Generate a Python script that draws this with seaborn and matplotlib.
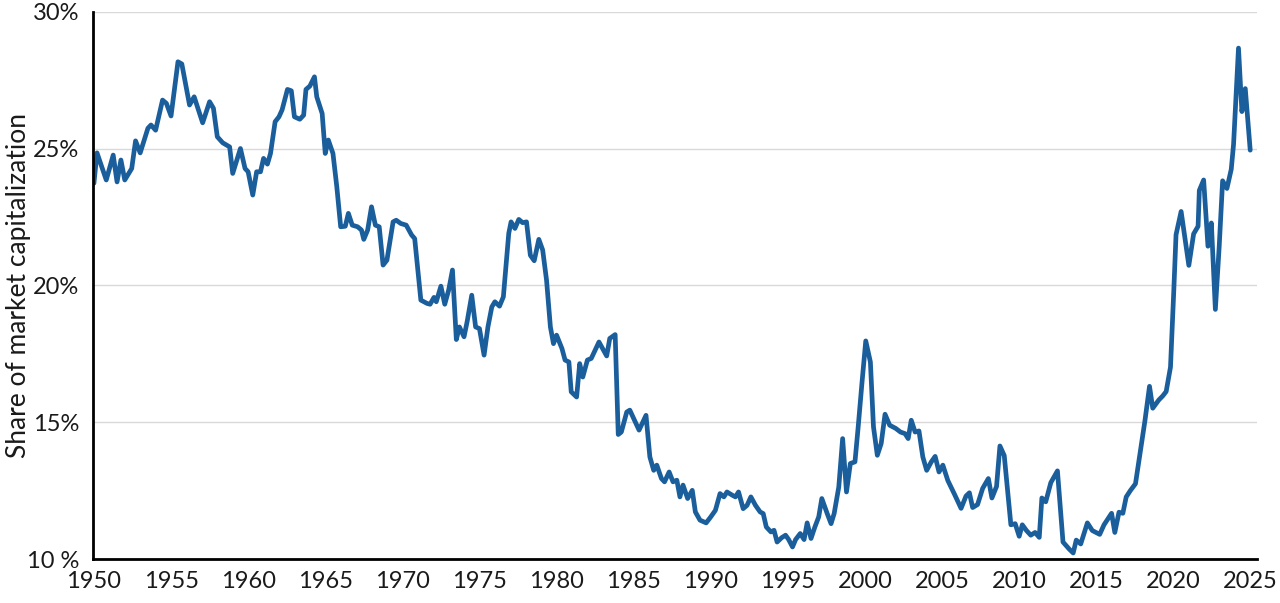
import pandas as pd
import matplotlib
matplotlib.use("Agg")
import matplotlib.pyplot as plt
import seaborn as sns

# Values (share of market capitalization, %)
years = [
    1950.0, 1950.2, 1950.8, 1951.25, 1951.5, 1951.75, 1952.0, 1952.45, 1952.7, 1953.0,
    1953.5, 1953.7, 1954.0, 1954.45, 1954.7, 1955.0, 1955.45, 1955.7, 1956.2, 1956.5,
    1957.05, 1957.5, 1957.75, 1958.0, 1958.35, 1958.8, 1959.0, 1959.5, 1959.8, 1960.0,
    1960.3, 1960.55, 1960.8, 1961.0, 1961.25, 1961.45, 1961.75, 1962.0, 1962.2, 1962.55,
    1962.8, 1963.0, 1963.35, 1963.6, 1963.75, 1964.0, 1964.3, 1964.45, 1964.8, 1965.0,
    1965.2, 1965.5, 1965.75, 1966.0, 1966.3, 1966.5, 1966.75, 1967.1, 1967.35, 1967.5,
    1967.75, 1968.0, 1968.25, 1968.5, 1968.75, 1969.0, 1969.4, 1969.6, 1969.9, 1970.25,
    1970.6, 1970.8, 1971.2, 1971.6, 1971.8, 1972.05, 1972.2, 1972.5, 1972.75, 1973.0,
    1973.25, 1973.5, 1973.7, 1974.0, 1974.2, 1974.5, 1974.75, 1975.0, 1975.3, 1975.55,
    1975.8, 1976.0, 1976.3, 1976.55, 1976.75, 1976.9, 1977.05, 1977.3, 1977.55, 1977.8,
    1978.05, 1978.3, 1978.55, 1978.85, 1979.1, 1979.35, 1979.6, 1979.8, 1980.0, 1980.35,
    1980.55, 1980.8, 1980.95, 1981.3, 1981.5, 1981.7, 1982.0, 1982.25, 1982.75, 1983.25,
    1983.45, 1983.8, 1984.0, 1984.2, 1984.55, 1984.75, 1985.35, 1985.8, 1986.05, 1986.3,
    1986.5, 1986.8, 1987.0, 1987.3, 1987.55, 1987.8, 1988.0, 1988.2, 1988.5, 1988.8,
    1989.0, 1989.3, 1989.7, 1990.0, 1990.3, 1990.6, 1990.85, 1991.05, 1991.4, 1991.6,
    1991.8, 1992.1, 1992.35, 1992.6, 1992.9, 1993.2, 1993.4, 1993.6, 1993.9, 1994.1,
    1994.3, 1994.6, 1994.85, 1995.05, 1995.3, 1995.5, 1995.8, 1996.05, 1996.25, 1996.5,
    1996.75, 1997.0, 1997.2, 1997.55, 1997.8, 1998.0, 1998.3, 1998.55, 1998.8, 1999.05,
    1999.35, 1999.55, 1999.8, 2000.05, 2000.35, 2000.55, 2000.8, 2001.05, 2001.3, 2001.6,
    2002.0, 2002.3, 2002.6, 2002.8, 2003.0, 2003.25, 2003.5, 2003.75, 2004.0, 2004.3,
    2004.55, 2004.8, 2005.05, 2005.37, 2005.8, 2006.23, 2006.55, 2006.77, 2006.98, 2007.3,
    2007.63, 2008.0, 2008.23, 2008.53, 2008.75, 2009.03, 2009.46, 2009.74, 2010.0, 2010.2,
    2010.47, 2010.75, 2011.03, 2011.3, 2011.47, 2011.72, 2012.05, 2012.48, 2012.84, 2013.23,
    2013.5, 2013.7, 2013.99, 2014.42, 2014.74, 2015.22, 2015.5, 2015.99, 2016.2, 2016.47,
    2016.72, 2016.94, 2017.22, 2017.54, 2017.87, 2018.15, 2018.45, 2018.66, 2019.05, 2019.31,
    2019.53, 2019.81, 2020.02, 2020.17, 2020.5, 2021.0, 2021.31, 2021.6, 2021.68, 2021.96,
    2022.24, 2022.46, 2022.72, 2022.97, 2023.19, 2023.47, 2023.75, 2023.9, 2024.22, 2024.44,
    2024.66, 2024.98,
]
share = [
    23.73, 24.84, 23.85, 24.76, 23.78, 24.58, 23.85, 24.27, 25.28, 24.84,
    25.74, 25.86, 25.67, 26.77, 26.65, 26.19, 28.17, 28.09, 26.59, 26.89,
    25.94, 26.71, 26.47, 25.43, 25.21, 25.06, 24.09, 25.00, 24.27, 24.15,
    23.30, 24.15, 24.15, 24.64, 24.43, 24.82, 25.98, 26.16, 26.41, 27.16,
    27.11, 26.16, 26.07, 26.22, 27.16, 27.28, 27.62, 26.89, 26.28, 24.82,
    25.31, 24.82, 23.60, 22.14, 22.16, 22.63, 22.20, 22.14, 22.02, 21.68,
    22.02, 22.87, 22.20, 22.14, 20.74, 20.92, 22.32, 22.38, 22.26, 22.20,
    21.84, 21.71, 19.46, 19.34, 19.31, 19.56, 19.40, 19.97, 19.31, 19.82,
    20.56, 18.02, 18.48, 18.12, 18.67, 19.64, 18.48, 18.42, 17.45, 18.48,
    19.21, 19.40, 19.24, 19.58, 20.92, 21.90, 22.32, 22.08, 22.41, 22.29,
    22.32, 21.10, 20.90, 21.68, 21.29, 20.19, 18.48, 17.87, 18.18, 17.69,
    17.27, 17.20, 16.11, 15.92, 17.14, 16.65, 17.27, 17.33, 17.93, 17.42,
    18.06, 18.20, 14.55, 14.64, 15.37, 15.44, 14.71, 15.25, 13.73, 13.24,
    13.43, 12.94, 12.82, 13.18, 12.82, 12.88, 12.27, 12.70, 12.21, 12.51,
    11.72, 11.42, 11.32, 11.54, 11.78, 12.39, 12.27, 12.45, 12.33, 12.27,
    12.45, 11.84, 11.96, 12.27, 11.96, 11.72, 11.66, 11.17, 10.99, 11.05,
    10.62, 10.78, 10.87, 10.71, 10.44, 10.71, 10.93, 10.71, 11.32, 10.75,
    11.17, 11.54, 12.21, 11.66, 11.29, 11.66, 12.63, 14.40, 12.45, 13.49,
    13.55, 14.77, 16.41, 17.97, 17.20, 14.83, 13.79, 14.22, 15.29, 14.89,
    14.77, 14.64, 14.58, 14.40, 15.07, 14.64, 14.68, 13.73, 13.24, 13.55,
    13.75, 13.18, 13.43, 12.87, 12.37, 11.85, 12.30, 12.42, 11.88, 11.99,
    12.58, 12.94, 12.23, 12.65, 14.13, 13.78, 11.25, 11.29, 10.83, 11.25,
    11.04, 10.87, 10.97, 10.79, 12.23, 12.09, 12.79, 13.22, 10.62, 10.37,
    10.22, 10.69, 10.55, 11.32, 11.04, 10.90, 11.25, 11.67, 10.97, 11.71,
    11.67, 12.27, 12.51, 12.75, 13.99, 15.04, 16.31, 15.51, 15.81, 15.96,
    16.12, 17.01, 19.75, 21.85, 22.70, 20.73, 21.88, 22.16, 23.47, 23.85,
    21.43, 22.28, 19.12, 21.43, 23.82, 23.54, 24.24, 25.15, 28.67, 26.35,
    27.19, 24.94,
]
x_ticks = list(range(1950, 2026, 5))
y_ticks = [10, 15, 20, 25, 30]
y_tick_labels = ["10 %", "15%", "20%", "25%", "30%"]

df = pd.DataFrame({"year": years, "share": share})

sns.set_style("white")
plt.rcParams["font.family"] = ["Lato", "DejaVu Sans"]

fig, ax = plt.subplots(figsize=(12.8, 6.03), dpi=100)
fig.subplots_adjust(left=93 / 1280, right=1257 / 1280, bottom=1 - 559 / 603, top=1 - 11.7 / 603)

sns.lineplot(data=df, x="year", y="share", ax=ax, color="#1b5e9c", linewidth=3.4, sort=False)

ax.set_xlim(1949.94, 2025.42)
ax.set_ylim(10, 30)
ax.set_xticks(x_ticks)
ax.set_yticks(y_ticks)
ax.set_yticklabels(y_tick_labels)
ax.set_xlabel("")
ax.set_ylabel("Share of market capitalization", fontsize=19, color="#1a1a1a")
ax.yaxis.set_label_coords(-0.053, 0.5)

ax.yaxis.grid(True, color="#d9d9d9", linewidth=1)
ax.xaxis.grid(False)
ax.set_axisbelow(True)
ax.tick_params(axis="both", length=0, labelsize=17, colors="#1a1a1a")
ax.tick_params(axis="x", pad=9)
ax.tick_params(axis="y", pad=10)

for side in ["top", "right"]:
    ax.spines[side].set_visible(False)
for side in ["left", "bottom"]:
    ax.spines[side].set_color("black")
    ax.spines[side].set_linewidth(2)

fig.savefig("out.png", dpi=100)
